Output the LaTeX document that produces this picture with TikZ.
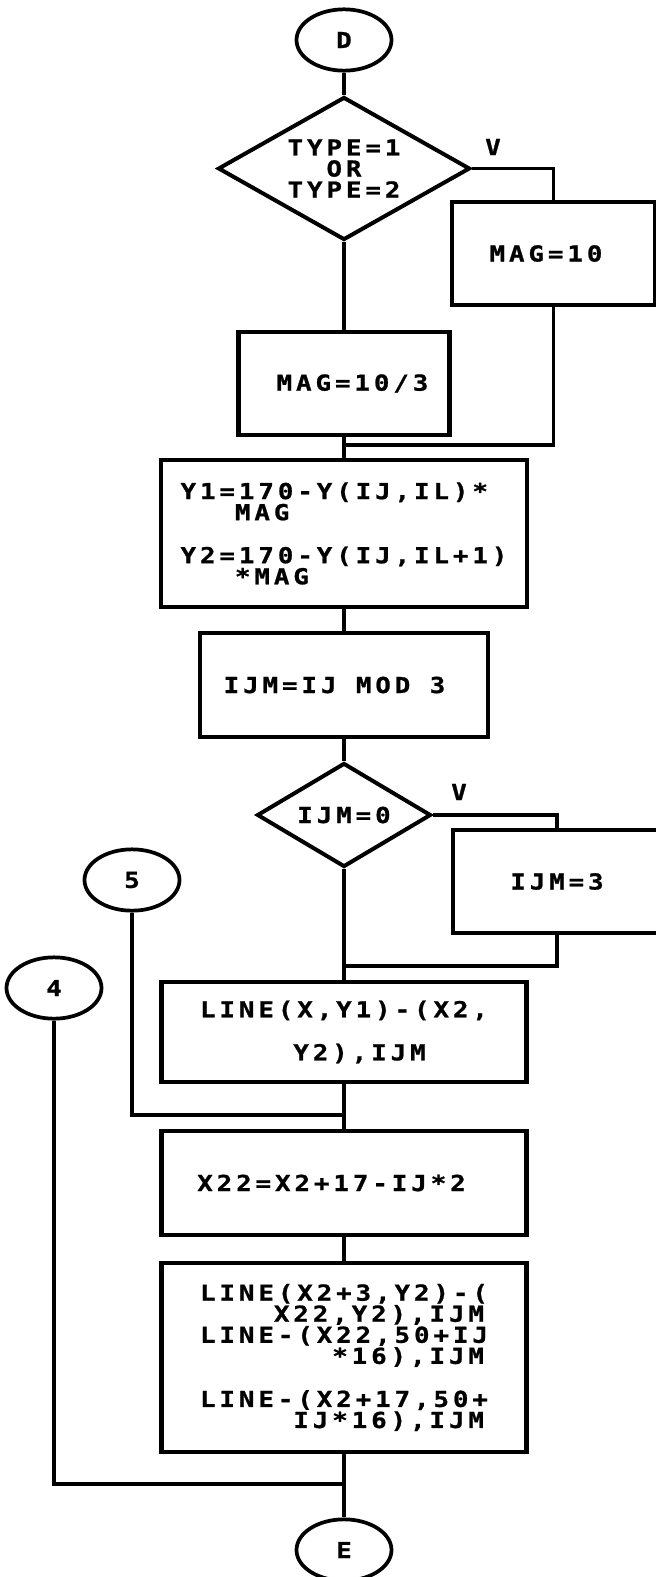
\documentclass[tikz,border=0pt]{standalone}
\usepackage{fontspec}
\newfontfamily\dotfont[LetterSpace=18,FakeStretch=1.17,BoldFeatures={FakeBold=1}]{DejaVu Sans Mono}
\usetikzlibrary{shapes.geometric}
\begin{document}
\begin{tikzpicture}[x=0.75pt,y=-0.75pt,
    every node/.style={font=\dotfont\bfseries\fontsize{16.5pt}{15.8pt}\selectfont, inner sep=0pt},
    procbox/.style={draw, rectangle, line width=3.2pt, align=left},
    decision/.style={draw, diamond, line width=3pt, align=center},
    terminal/.style={draw, ellipse, line width=2.8pt, minimum width=71.25pt, minimum height=46pt},
    wire/.style={line width=2.3pt}]
  \useasboundingbox (0,0) rectangle (656,1577);
  \path
    (344,40) node[terminal] (D) {D}
    (344,168.5) node[decision, shape aspect=1.76, minimum width=189pt, minimum height=107.25pt] (q1) {TYPE=1\\OR\\TYPE=2}
    (493,147) node (v1) {V}
    (553.5,253.5) node[procbox, minimum width=152.25pt, minimum height=77.25pt] (m10) {MAG=10\hspace*{11.25pt}}
    (344,383.5) node[procbox, minimum width=158.25pt, minimum height=77.25pt] (m103) {\hspace*{12.75pt}MAG=10/3}
    (344,533.5) node[procbox, minimum width=274.5pt, minimum height=110.25pt] (y12) {Y1=170-Y(IJ,IL)*\\\hphantom{Y1=}MAG\\[16.5pt]Y2=170-Y(IJ,IL+1)\\\hphantom{Y2=}*MAG}
    (344,685) node[procbox, minimum width=216pt, minimum height=78pt] (ijm) {IJM=IJ MOD 3\hspace*{14.25pt}}
    (344,815) node[decision, shape aspect=1.67, minimum width=130.5pt, minimum height=78pt] (q2) {IJM=0}
    (459,792) node (v2) {V}
    (557,881.5) node[procbox, minimum width=156pt, minimum height=77.25pt] (ijm3) {IJM=3}
    (132,880) node[terminal] (5) {5}
    (54,988) node[terminal] (4) {4}
    (344,1032) node[procbox, minimum width=273.75pt, minimum height=75pt] (ln1) {LINE(X,Y1)-(X2,\\[16.5pt]\hphantom{LINE(}Y2),IJM}
    (344,1183) node[procbox, minimum width=273.75pt, minimum height=78pt] (x22) {X22=X2+17-IJ*2\hspace*{18.75pt}}
    (344,1357.5) node[procbox, minimum width=273.75pt, minimum height=141.75pt] (ln2) {LINE(X2+3,Y2)-(\\\hphantom{LINE}X22,Y2),IJM\\LINE-(X22,50+IJ\\\hphantom{LINE-(X}*16),IJM\\[16.5pt]LINE-(X2+17,50+\\\hphantom{LINE-}IJ*16),IJM}
    (344,1550) node[terminal] (E) {E};
  \coordinate (j1) at (344,445);
  \coordinate (j2) at (344,966);
  \coordinate (j3) at (344,1115);
  \coordinate (j4) at (344,1484);
  \begin{scope}[wire]
    \draw (D) to (q1);
    \draw (q1) to (m103);
    \draw (q1.east) -| (m10.north);
    \draw (m10.south) |- (j1);
    \draw (m103) to (y12);
    \draw (y12) to (ijm);
    \draw (ijm) to (q2);
    \draw (q2.east) -| (ijm3.north);
    \draw (ijm3.south) |- (j2);
    \draw (q2) to (ln1);
    \draw (ln1) to (x22);
    \draw (5.south) |- (j3);
    \draw (x22) to (ln2);
    \draw (ln2) to (E);
    \draw (4.south) |- (j4);
  \end{scope}
\end{tikzpicture}
\end{document}
